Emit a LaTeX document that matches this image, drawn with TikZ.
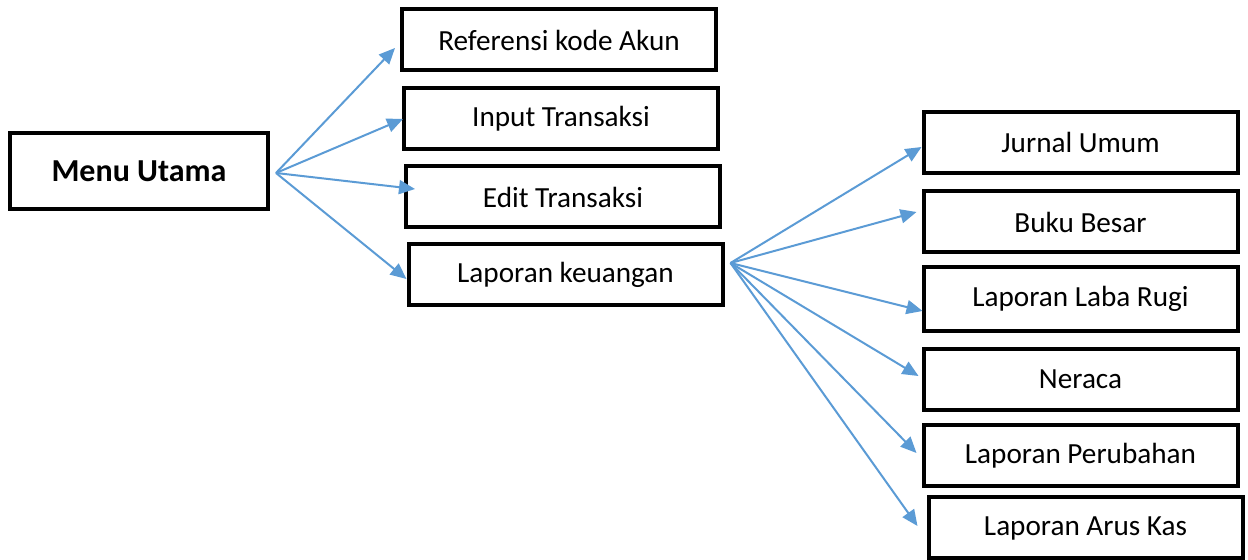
\documentclass[tikz,border=0pt]{standalone}
\usepackage{fontspec}
\setmainfont{Carlito}
\usepackage{tikz}
\usetikzlibrary{arrows.meta}

\begin{document}
\begin{tikzpicture}[x=0.5pt,y=-0.5pt,
box/.style={draw,line width=2pt,inner sep=0pt,minimum width=157pt,minimum height=30.5pt,font=\fontsize{14.6}{17}\selectfont},
link/.style={draw={rgb,255:red,91;green,155;blue,213},line width=1pt,-{Triangle[length=8pt,width=7pt]},fill={rgb,255:red,91;green,155;blue,213}}
]
\useasboundingbox (0,0) rectangle (1248,560);
\node[box,minimum width=129pt,minimum height=38pt,font=\fontsize{16}{19}\selectfont\bfseries] (menu) at (139,171) {Menu Utama};
\node[box] (ref) at (559,40) {Referensi kode Akun};
\node[box] (inp) at (561,119) {Input Transaksi};
\node[box] (edt) at (563,197) {Edit Transaksi};
\node[box] (lap) at (565.5,274.5) {Laporan keuangan};
\node[box] (jur) at (1080.5,142.5) {Jurnal Umum};
\node[box] (buk) at (1080.5,222) {Buku Besar};
\node[box,minimum height=32pt] (lab) at (1080.5,299) {Laporan Laba Rugi};
\node[box] (ner) at (1080.5,379.5) {Neraca};
\node[box] (per) at (1080.5,455.5) {Laporan Perubahan};
\node[box] (aru) at (1085.5,528) {Laporan Arus Kas};
\coordinate (m0) at ([shift={(6,2)}]menu.east);
\coordinate (l0) at ([shift={(6,-11.5)}]lap.east);
\foreach \to/\dx/\dy in {ref/-5/8,inp/1/0,edt/11/-8,lap/0/4.5}
  \draw[link] (m0) -- ([shift={(\dx,\dy)}]\to.west);
\foreach \to/\dx/\dy in {jur/0/4.5,buk/-5/-10,lab/1/12,ner/-3/-3.5,per/-5/-2.5,aru/-9/-2}
  \draw[link] (l0) -- ([shift={(\dx,\dy)}]\to.west);
\end{tikzpicture}
\end{document}
